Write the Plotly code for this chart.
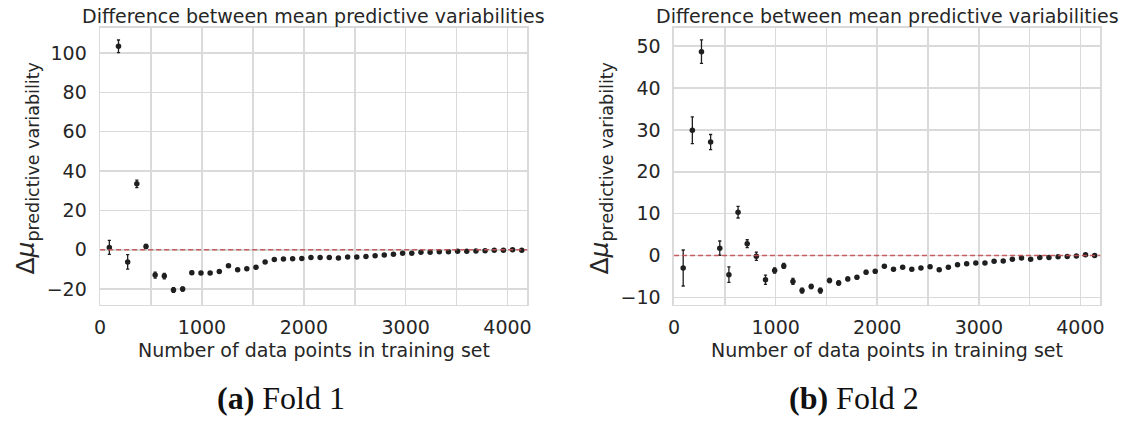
import plotly.graph_objects as go

W, H = 1133, 425

# ---------------- data ----------------
n_points = [90, 180, 270, 360, 450, 540, 630, 720, 810, 900,
            990, 1080, 1170, 1260, 1350, 1440, 1530, 1620, 1710, 1800,
            1890, 1980, 2070, 2160, 2250, 2340, 2430, 2520, 2610, 2700,
            2790, 2880, 2970, 3060, 3150, 3240, 3330, 3420, 3510, 3600,
            3690, 3780, 3870, 3960, 4050, 4140]

fold1_delta = [1.2, 103.4, -6.2, 33.5, 1.7, -12.9, -13.4, -20.5, -20.0, -11.7,
               -11.8, -11.8, -11.1, -8.2, -10.2, -9.7, -8.9, -6.2, -4.9, -4.7,
               -4.6, -4.4, -3.9, -3.9, -3.9, -4.2, -3.7, -3.7, -3.4, -3.0,
               -2.7, -2.3, -1.8, -1.8, -1.3, -1.3, -1.0, -1.0, -0.8, -0.8,
               -0.7, -0.5, -0.3, -0.3, 0.0, -0.2]
fold1_err = [3.6, 3.2, 3.7, 1.9, 1.0, 1.5, 1.4, 1.2, 1.0, 0.8,
             0.7, 0.7, 0.6, 0.6, 0.5, 0.5, 0.5, 0.4, 0.4, 0.4,
             0.4, 0.3, 0.3, 0.3, 0.3, 0.3, 0.3, 0.3, 0.3, 0.3,
             0.3, 0.3, 0.3, 0.3, 0.2, 0.2, 0.2, 0.2, 0.2, 0.2,
             0.2, 0.2, 0.2, 0.2, 0.2, 0.2]

fold2_delta = [-3.0, 29.9, 48.7, 27.1, 1.75, -4.6, 10.35, 2.8, -0.2, -5.8,
               -3.6, -2.5, -6.2, -8.4, -7.4, -8.4, -6.0, -6.6, -5.6, -5.2,
               -4.0, -3.8, -2.6, -3.3, -2.8, -3.3, -3.0, -2.7, -3.4, -2.8,
               -2.2, -2.0, -1.8, -1.8, -1.4, -1.3, -0.9, -0.6, -0.9, -0.5,
               -0.5, -0.3, -0.25, -0.15, 0.15, 0.0]
fold2_err = [4.3, 3.2, 2.8, 1.8, 1.7, 1.85, 1.4, 0.95, 1.0, 1.1,
             0.6, 0.6, 0.7, 0.6, 0.5, 0.6, 0.5, 0.5, 0.4, 0.4,
             0.4, 0.4, 0.3, 0.3, 0.3, 0.3, 0.3, 0.3, 0.3, 0.3,
             0.3, 0.3, 0.3, 0.3, 0.2, 0.2, 0.2, 0.2, 0.2, 0.2,
             0.2, 0.2, 0.2, 0.2, 0.2, 0.2]

x_tick_vals = [0, 500, 1000, 1500, 2000, 2500, 3000, 3500, 4000]
x_tick_text = ["0", "", "1000", "", "2000", "", "3000", "", "4000"]

title_text = "Difference between mean predictive variabilities"
xlabel_text = "Number of data points in training set"
ylabel_text = "Δ<i>μ</i><sub>predictive variability</sub>"
captions = ["<b>(a)</b> Fold 1", "<b>(b)</b> Fold 2"]

# ---------------- layout helpers ----------------
def px(x):
    return x / W

def py(y):
    return 1 - y / H

TXT = "#262626"
GRID = "#dadada"
FONT = "DejaVu Sans"

panels = [
    dict(left=95, right=526, yr=[-28.0, 112.8], dtick=20,
         y=fold1_delta, e=fold1_err, cap_x=277),
    dict(left=674, right=1104, yr=[-11.8, 54.4], dtick=10,
         y=fold2_delta, e=fold2_err, cap_x=856),
]
top, bottom = 28, 307

fig = go.Figure()
annotations = []
shapes = []

for i, p in enumerate(panels):
    sfx = "" if i == 0 else str(i + 1)
    xa, ya = "x" + sfx, "y" + sfx
    fig.add_trace(go.Scatter(
        x=n_points, y=p["y"], xaxis=xa, yaxis=ya, mode="markers",
        marker=dict(color="#1f1f1f", size=5.5),
        error_y=dict(type="data", array=p["e"], visible=True,
                     color="#1f1f1f", thickness=1.3, width=1.6),
        showlegend=False, cliponaxis=False,
    ))
    axcommon = dict(showline=True, linecolor=GRID, linewidth=1.6, mirror=True,
                    showgrid=True, gridcolor=GRID, gridwidth=1.6, zeroline=False,
                    ticks="", tickfont=dict(family=FONT, size=19, color=TXT))
    fig.update_layout(**{
        "xaxis" + sfx: dict(domain=[px(p["left"]), px(p["right"])], anchor=ya,
                            range=[0, 4195], tickmode="array",
                            tickvals=x_tick_vals, ticktext=x_tick_text,
                            ticklabelstandoff=5, **axcommon),
        "yaxis" + sfx: dict(domain=[py(bottom), py(top)], anchor=xa,
                            range=p["yr"], dtick=p["dtick"], tick0=0,
                            ticklabelstandoff=8, **axcommon),
    })
    # dashed zero line
    shapes.append(dict(type="line", xref=xa + " domain", yref=ya,
                       x0=0, x1=1, y0=0, y1=0,
                       line=dict(color="rgba(196,78,82,0.9)", width=1.4, dash="5px,3px"),
                       layer="above"))
    cx = (p["left"] + p["right"]) / 2
    annotations += [
        dict(text=title_text, x=px(cx), y=py(16), xref="paper", yref="paper",
             xanchor="center", yanchor="middle", showarrow=False,
             font=dict(family=FONT, size=19, color=TXT)),
        dict(text=xlabel_text, x=px(cx), y=py(352), xref="paper", yref="paper",
             xanchor="center", yanchor="middle", showarrow=False,
             font=dict(family=FONT, size=19, color=TXT)),
        dict(text=ylabel_text, x=px(p["left"] - 74), y=py(170), xref="paper", yref="paper",
             xanchor="center", yanchor="middle", showarrow=False, textangle=-90,
             font=dict(family=FONT, size=25, color=TXT)),
        dict(text=captions[i], x=px(p["cap_x"]), y=py(401), xref="paper", yref="paper",
             xanchor="center", yanchor="middle", showarrow=False,
             font=dict(family="Liberation Serif", size=32, color="#111111")),
    ]

fig.update_layout(
    width=W, height=H,
    margin=dict(l=0, r=0, t=0, b=0),
    paper_bgcolor="white", plot_bgcolor="white",
    annotations=annotations, shapes=shapes,
    hovermode=False,
)

# remove the default 8px page margin so the figure fills the window exactly
fig.write_html("out.html",
               config={"displayModeBar": False, "staticPlot": True},
               post_script="document.body.style.margin='0';document.body.style.overflow='hidden';")
